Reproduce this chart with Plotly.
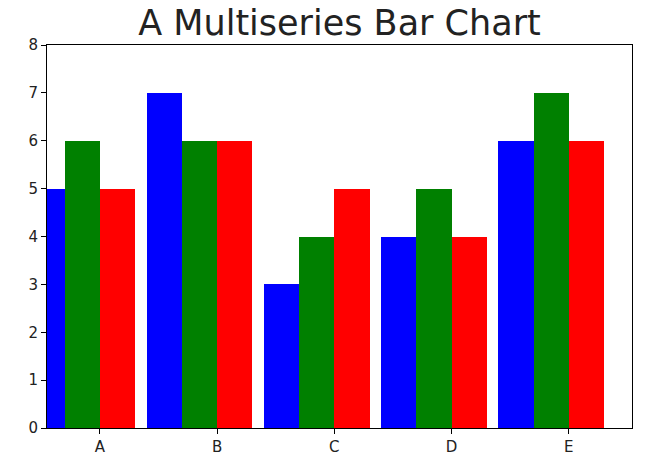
import plotly.graph_objects as go

categories = ["A", "B", "C", "D", "E"]
blue_values = [5, 7, 3, 4, 6]
green_values = [6, 6, 4, 5, 7]
red_values = [5, 6, 5, 4, 6]

positions = list(range(len(categories)))
bar_w = 0.3

fig = go.Figure()
for vals, color, off in [(blue_values, "blue", -2 * bar_w),
                         (green_values, "green", -bar_w),
                         (red_values, "red", 0.0)]:
    fig.add_trace(go.Bar(x=positions, y=vals, width=bar_w, offset=off,
                         marker=dict(color=color, line=dict(width=0)),
                         showlegend=False))

axis_common = dict(showline=True, linecolor="black", linewidth=1, mirror=True,
                   ticks="outside", ticklen=5, tickwidth=1, tickcolor="black",
                   showgrid=False, zeroline=False, automargin=False,
                   tickfont=dict(family="DejaVu Sans", size=15, color="#222"))

fig.update_layout(
    width=638, height=450,
    margin=dict(l=39, r=14, t=37, b=30),
    paper_bgcolor="white", plot_bgcolor="white",
    barmode="overlay", bargap=0,
    title=dict(text="A Multiseries Bar Chart", x=0.5, xref="paper", xanchor="center",
               y=1, yref="paper", yanchor="bottom", pad=dict(b=10), automargin=False,
               font=dict(family="DejaVu Sans", size=35, color="#222")),
    xaxis=dict(range=[-0.452, 4.54], tickvals=positions, ticktext=categories,
               **axis_common),
    yaxis=dict(range=[0, 8], tickvals=list(range(0, 9)), **axis_common),
)

fig.write_html("out.html")
